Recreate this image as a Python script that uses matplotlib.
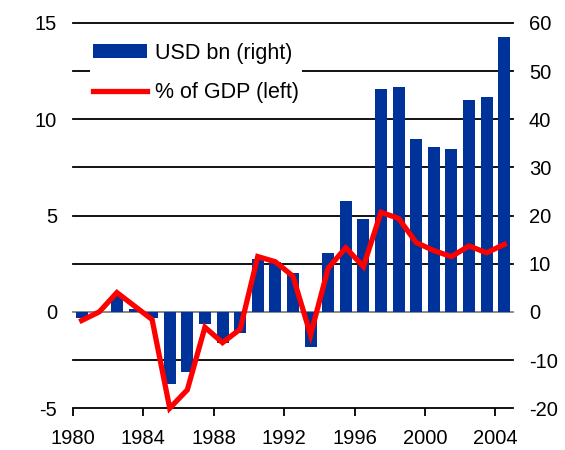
import matplotlib
matplotlib.use("Agg")
import matplotlib.pyplot as plt
import numpy as np

plt.rcParams['font.family'] = ['Liberation Sans', 'DejaVu Sans']
plt.rcParams['axes.unicode_minus'] = False

years = list(range(1980, 2005))
usd_bn = [-1.2, 0.0, 3.2, 0.6, -1.3, -15.0, -12.4, -2.6, -6.4, -4.3,
          11.0, 10.4, 8.1, -7.3, 12.3, 23.0, 19.3, 46.2, 46.6, 35.9,
          34.3, 33.8, 44.1, 44.6, 57.0]
pct_gdp = [-0.45, 0.0, 1.0, 0.3, -0.4, -5.0, -4.05, -0.8, -1.6, -0.9,
           2.87, 2.6, 1.85, -1.2, 2.27, 3.33, 2.35, 5.17, 4.85, 3.6,
           3.18, 2.87, 3.42, 3.07, 3.5]
tick_years = [1980, 1984, 1988, 1992, 1996, 2000, 2004]

fig = plt.figure(figsize=(5.65, 4.5), dpi=100)
ax = fig.add_axes([0.129, 0.093, 0.779, 0.856])   # bars, right scale
ax2 = ax.twinx()                                   # line, left scale

x = np.arange(len(years)) + 0.5

# gridlines behind bars
for v in range(-10, 61, 10):
    ax.axhline(v, color='#808080' if v == 0 else 'black', lw=1.3, zorder=0,
               clip_on=False)

bars = ax.bar(x, usd_bn, width=0.68, color='#003399', zorder=2, label='USD bn (right)')
line, = ax2.plot(x, pct_gdp, color='#ff0000', lw=3.8, solid_joinstyle='miter',
                 label='% of GDP (left)', clip_on=False)

ax.set_xlim(0, len(years))
ax.set_ylim(-20, 60)
ax2.set_ylim(-5, 15)

ax.set_xticks([years.index(y) for y in tick_years])
ax.set_xticklabels([str(y) for y in tick_years])

ax.yaxis.tick_right()
ax.set_yticks(range(-20, 61, 10))
ax2.yaxis.tick_left()
ax2.set_yticks(range(-5, 16, 5))

for a in (ax, ax2):
    for s in ['top', 'left', 'right']:
        a.spines[s].set_visible(False)
    a.spines['bottom'].set_visible(a is ax)
    a.tick_params(labelsize=14.5, length=0, pad=11.5)
ax.spines['bottom'].set_linewidth(1.3)
ax.tick_params(axis='x', length=6, width=1.3, direction='out', pad=9)

leg = ax2.legend([bars, line], ['USD bn (right)', '% of GDP (left)'],
                 loc='upper left', bbox_to_anchor=(0.015, 0.985), frameon=True,
                 fontsize=15.5, handlelength=2.5, handleheight=0.65,
                 borderpad=0.15, labelspacing=0.85, handletextpad=0.35)
leg.get_frame().set_edgecolor('none')
leg.get_frame().set_facecolor('white')
leg.get_frame().set_alpha(1)

fig.savefig('out.png', dpi=100)
